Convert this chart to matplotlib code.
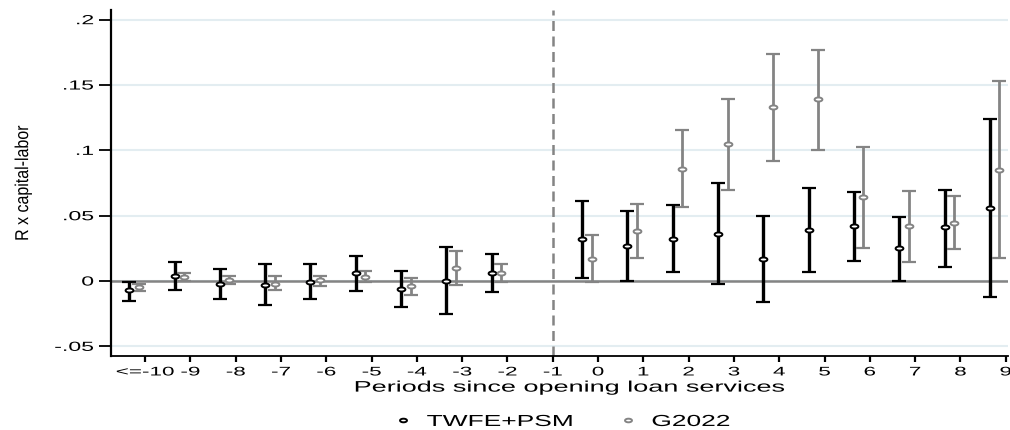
import numpy as np
import matplotlib.pyplot as plt
from matplotlib.lines import Line2D
from matplotlib.path import Path
from matplotlib.patheffects import AbstractPathEffect
from matplotlib.transforms import Affine2D

# event-time periods (-1 is the omitted reference period)
periods = [-10, -9, -8, -7, -6, -5, -4, -3, -2, 0, 1, 2, 3, 4, 5, 6, 7, 8, 9]
tick_pos = list(range(-10, 10))
tick_labels = ['<=-10', '-9', '-8', '-7', '-6', '-5', '-4', '-3', '-2', '-1',
               '0', '1', '2', '3', '4', '5', '6', '7', '8', '9']

# TWFE+PSM estimates and 95% CI
twfe_est = [-0.007, 0.004, -0.002, -0.003, -0.001, 0.006, -0.006, 0.000, 0.006,
            0.032, 0.027, 0.032, 0.036, 0.017, 0.039, 0.042, 0.025, 0.041, 0.056]
twfe_lo = [-0.015, -0.007, -0.014, -0.018, -0.014, -0.008, -0.020, -0.025, -0.0085,
           0.002, 0.000, 0.007, -0.002, -0.016, 0.007, 0.015, 0.000, 0.011, -0.012]
twfe_hi = [-0.001, 0.0145, 0.009, 0.013, 0.013, 0.019, 0.008, 0.026, 0.0205,
           0.061, 0.0535, 0.058, 0.075, 0.050, 0.071, 0.068, 0.049, 0.070, 0.124]

# G2022 estimates and 95% CI
g_est = [-0.0045, 0.003, 0.001, -0.002, 0.001, 0.003, -0.004, 0.010, 0.006,
         0.017, 0.038, 0.086, 0.105, 0.133, 0.139, 0.064, 0.042, 0.0445, 0.085]
g_lo = [-0.008, 0.000, -0.002, -0.007, -0.004, -0.001, -0.011, -0.003, -0.001,
        -0.001, 0.0175, 0.0565, 0.070, 0.092, 0.100, 0.025, 0.0145, 0.0245, 0.018]
g_hi = [-0.002, 0.006, 0.004, 0.004, 0.004, 0.0075, 0.002, 0.023, 0.013,
        0.035, 0.059, 0.1155, 0.139, 0.174, 0.177, 0.1025, 0.069, 0.065, 0.153]

yticks = [-0.05, 0, 0.05, 0.1, 0.15, 0.2]
ytick_labels = ['-.05', '0', '.05', '.1', '.15', '.2']


class HStretch(AbstractPathEffect):
    """Widen text horizontally around its left / centre / right edge."""

    def __init__(self, sx, anchor='center'):
        super().__init__()
        self.sx = sx
        self.anchor = anchor

    def draw_path(self, renderer, gc, tpath, affine, rgbFace=None):
        ext = tpath.get_extents(affine)
        if self.anchor == 'left':
            cx = ext.x0
        elif self.anchor == 'right':
            cx = ext.x1
        else:
            cx = 0.5 * (ext.x0 + ext.x1)
        t = affine + Affine2D().translate(-cx, 0).scale(self.sx, 1).translate(cx, 0)
        renderer.draw_path(gc, tpath, t, rgbFace)


# flattened circle marker
th = np.linspace(0, 2 * np.pi, 41)
oval = Path(np.column_stack([np.cos(th), 0.52 * np.sin(th)]), closed=True)

plt.rcParams['font.family'] = ['Liberation Sans', 'DejaVu Sans']

fig = plt.figure(figsize=(10.1, 4.3), dpi=100)
ax = fig.add_axes([0.110, 0.172, 0.888, 0.805])

x = np.array(periods, dtype=float)
gray = '#848484'

series = [(twfe_est, twfe_lo, twfe_hi, -0.35, 'black', 2.4),
          (g_est, g_lo, g_hi, -0.14, gray, 2.0)]
for vals, lo, hi, off, col, lw in series:
    v = np.array(vals)
    err = np.vstack([v - np.array(lo), np.array(hi) - v])
    ax.errorbar(x + off, v, yerr=err, fmt='none', ecolor=col,
                elinewidth=lw, capsize=5.2, capthick=1.6, zorder=3)
    ax.plot(x + off, v, linestyle='none', marker=oval, markersize=5.6,
            markerfacecolor='white', markeredgecolor=col, markeredgewidth=1.4,
            zorder=4)

ax.axhline(0, color=gray, linewidth=1.8, zorder=2)
ax.axvline(-1, color=gray, linewidth=1.8, linestyle=(0, (4, 2.2)), zorder=2)

ax.set_xlim(-10.75, 9.05)
ax.set_ylim(-0.0574, 0.2075)
ax.set_yticks(yticks)
ax.set_yticklabels(ytick_labels)
ax.set_xticks(tick_pos)
ax.set_xticklabels(tick_labels)
ax.yaxis.grid(True, color='#e3edf1', linewidth=1.5)
ax.set_axisbelow(True)

for s in ['top', 'right']:
    ax.spines[s].set_visible(False)
ax.spines['left'].set_linewidth(1.6)
ax.spines['bottom'].set_linewidth(1.3)
ax.tick_params(axis='y', length=8.5, width=1.3, labelsize=9.5, pad=4)
ax.tick_params(axis='x', length=4.5, width=1.6, labelsize=9, pad=3)

for lab in ax.get_yticklabels():
    lab.set_path_effects([HStretch(1.75, 'right')])
for lab in ax.get_xticklabels():
    lab.set_path_effects([HStretch(1.8, 'center')])

xl = ax.set_xlabel('Periods since opening loan services', fontsize=11, labelpad=0)
xl.set_path_effects([HStretch(1.77, 'center')])
ax.xaxis.set_label_coords((569 - 111) / 897, -0.071)

yl = ax.set_ylabel('R x capital-labor', fontsize=11.5)
yl.set_path_effects([HStretch(1.17, 'center')])
ax.yaxis.set_label_coords(-0.090, 0.50)

handles = [Line2D([], [], marker=oval, linestyle='none', markerfacecolor='white',
                  markeredgecolor='black', markersize=5, markeredgewidth=1.4),
           Line2D([], [], marker=oval, linestyle='none', markerfacecolor='white',
                  markeredgecolor=gray, markersize=5, markeredgewidth=1.4)]
leg = fig.legend(handles, ['TWFE+PSM', 'G2022'], loc='center left',
                 bbox_to_anchor=(0.391, 0.0198), ncol=2, frameon=False,
                 fontsize=11.5, columnspacing=6.5, handletextpad=1.0,
                 handlelength=1.0, borderpad=0, borderaxespad=0)
for t in leg.get_texts():
    t.set_path_effects([HStretch(1.65, 'left')])

fig.savefig('out.png', dpi=100)
